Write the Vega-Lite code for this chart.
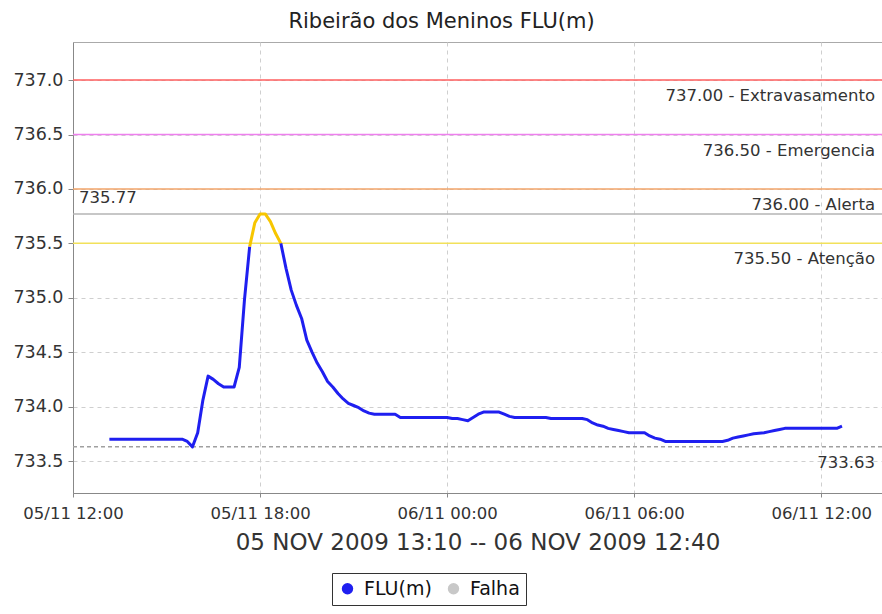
{
  "$schema": "https://vega.github.io/schema/vega-lite/v6.json",
  "autosize": {"type": "none"},
  "padding": {"left": 73, "top": 42, "right": 0, "bottom": 121},
  "width": 809,
  "height": 451,
  "background": "white",
  "title": {"text": "Ribeirão dos Meninos FLU(m)", "anchor": "middle", "font": "DejaVu Sans", "fontSize": 21, "fontWeight": "normal", "color": "#222", "offset": 10, "dx": -36},
  "config": {
    "view": {"stroke": "#aaaaaa", "strokeWidth": 1},
    "axis": {"labelFont": "DejaVu Sans", "titleFont": "DejaVu Sans", "labelColor": "#333", "titleColor": "#333", "domainColor": "#888", "tickColor": "#888", "gridColor": "#cfcfcf", "gridDash": [4, 4], "grid": true}
  },
  "datasets": {
    "flu": [
      {"t": "2009-11-05T13:10:00", "v": 733.70, "faixa": "normal", "trecho": 1},
      {"t": "2009-11-05T14:00:00", "v": 733.70, "faixa": "normal", "trecho": 1},
      {"t": "2009-11-05T15:00:00", "v": 733.70, "faixa": "normal", "trecho": 1},
      {"t": "2009-11-05T15:30:00", "v": 733.70, "faixa": "normal", "trecho": 1},
      {"t": "2009-11-05T15:40:00", "v": 733.68, "faixa": "normal", "trecho": 1},
      {"t": "2009-11-05T15:50:00", "v": 733.63, "faixa": "normal", "trecho": 1},
      {"t": "2009-11-05T16:00:00", "v": 733.76, "faixa": "normal", "trecho": 1},
      {"t": "2009-11-05T16:10:00", "v": 734.06, "faixa": "normal", "trecho": 1},
      {"t": "2009-11-05T16:20:00", "v": 734.28, "faixa": "normal", "trecho": 1},
      {"t": "2009-11-05T16:30:00", "v": 734.25, "faixa": "normal", "trecho": 1},
      {"t": "2009-11-05T16:40:00", "v": 734.21, "faixa": "normal", "trecho": 1},
      {"t": "2009-11-05T16:50:00", "v": 734.18, "faixa": "normal", "trecho": 1},
      {"t": "2009-11-05T17:10:00", "v": 734.18, "faixa": "normal", "trecho": 1},
      {"t": "2009-11-05T17:20:00", "v": 734.36, "faixa": "normal", "trecho": 1},
      {"t": "2009-11-05T17:30:00", "v": 734.98, "faixa": "normal", "trecho": 1},
      {"t": "2009-11-05T17:40:00", "v": 735.47, "faixa": "normal", "trecho": 1},
      {"t": "2009-11-05T17:40:00", "v": 735.47, "faixa": "atencao", "trecho": 2},
      {"t": "2009-11-05T17:50:00", "v": 735.69, "faixa": "atencao", "trecho": 2},
      {"t": "2009-11-05T18:00:00", "v": 735.77, "faixa": "atencao", "trecho": 2},
      {"t": "2009-11-05T18:10:00", "v": 735.77, "faixa": "atencao", "trecho": 2},
      {"t": "2009-11-05T18:20:00", "v": 735.70, "faixa": "atencao", "trecho": 2},
      {"t": "2009-11-05T18:30:00", "v": 735.59, "faixa": "atencao", "trecho": 2},
      {"t": "2009-11-05T18:40:00", "v": 735.50, "faixa": "atencao", "trecho": 2},
      {"t": "2009-11-05T18:40:00", "v": 735.50, "faixa": "normal", "trecho": 3},
      {"t": "2009-11-05T18:50:00", "v": 735.27, "faixa": "normal", "trecho": 3},
      {"t": "2009-11-05T19:00:00", "v": 735.07, "faixa": "normal", "trecho": 3},
      {"t": "2009-11-05T19:10:00", "v": 734.93, "faixa": "normal", "trecho": 3},
      {"t": "2009-11-05T19:20:00", "v": 734.81, "faixa": "normal", "trecho": 3},
      {"t": "2009-11-05T19:30:00", "v": 734.61, "faixa": "normal", "trecho": 3},
      {"t": "2009-11-05T19:40:00", "v": 734.50, "faixa": "normal", "trecho": 3},
      {"t": "2009-11-05T19:50:00", "v": 734.40, "faixa": "normal", "trecho": 3},
      {"t": "2009-11-05T20:00:00", "v": 734.32, "faixa": "normal", "trecho": 3},
      {"t": "2009-11-05T20:10:00", "v": 734.23, "faixa": "normal", "trecho": 3},
      {"t": "2009-11-05T20:20:00", "v": 734.18, "faixa": "normal", "trecho": 3},
      {"t": "2009-11-05T20:30:00", "v": 734.12, "faixa": "normal", "trecho": 3},
      {"t": "2009-11-05T20:40:00", "v": 734.07, "faixa": "normal", "trecho": 3},
      {"t": "2009-11-05T20:50:00", "v": 734.03, "faixa": "normal", "trecho": 3},
      {"t": "2009-11-05T21:00:00", "v": 734.01, "faixa": "normal", "trecho": 3},
      {"t": "2009-11-05T21:10:00", "v": 733.99, "faixa": "normal", "trecho": 3},
      {"t": "2009-11-05T21:20:00", "v": 733.96, "faixa": "normal", "trecho": 3},
      {"t": "2009-11-05T21:30:00", "v": 733.94, "faixa": "normal", "trecho": 3},
      {"t": "2009-11-05T21:40:00", "v": 733.93, "faixa": "normal", "trecho": 3},
      {"t": "2009-11-05T22:20:00", "v": 733.93, "faixa": "normal", "trecho": 3},
      {"t": "2009-11-05T22:30:00", "v": 733.90, "faixa": "normal", "trecho": 3},
      {"t": "2009-11-06T00:00:00", "v": 733.90, "faixa": "normal", "trecho": 3},
      {"t": "2009-11-06T00:10:00", "v": 733.89, "faixa": "normal", "trecho": 3},
      {"t": "2009-11-06T00:20:00", "v": 733.89, "faixa": "normal", "trecho": 3},
      {"t": "2009-11-06T00:30:00", "v": 733.88, "faixa": "normal", "trecho": 3},
      {"t": "2009-11-06T00:40:00", "v": 733.87, "faixa": "normal", "trecho": 3},
      {"t": "2009-11-06T00:50:00", "v": 733.90, "faixa": "normal", "trecho": 3},
      {"t": "2009-11-06T01:00:00", "v": 733.93, "faixa": "normal", "trecho": 3},
      {"t": "2009-11-06T01:10:00", "v": 733.95, "faixa": "normal", "trecho": 3},
      {"t": "2009-11-06T01:40:00", "v": 733.95, "faixa": "normal", "trecho": 3},
      {"t": "2009-11-06T01:50:00", "v": 733.93, "faixa": "normal", "trecho": 3},
      {"t": "2009-11-06T02:00:00", "v": 733.91, "faixa": "normal", "trecho": 3},
      {"t": "2009-11-06T02:10:00", "v": 733.90, "faixa": "normal", "trecho": 3},
      {"t": "2009-11-06T03:10:00", "v": 733.90, "faixa": "normal", "trecho": 3},
      {"t": "2009-11-06T03:20:00", "v": 733.89, "faixa": "normal", "trecho": 3},
      {"t": "2009-11-06T04:20:00", "v": 733.89, "faixa": "normal", "trecho": 3},
      {"t": "2009-11-06T04:30:00", "v": 733.88, "faixa": "normal", "trecho": 3},
      {"t": "2009-11-06T04:40:00", "v": 733.85, "faixa": "normal", "trecho": 3},
      {"t": "2009-11-06T04:50:00", "v": 733.83, "faixa": "normal", "trecho": 3},
      {"t": "2009-11-06T05:00:00", "v": 733.82, "faixa": "normal", "trecho": 3},
      {"t": "2009-11-06T05:10:00", "v": 733.80, "faixa": "normal", "trecho": 3},
      {"t": "2009-11-06T05:20:00", "v": 733.79, "faixa": "normal", "trecho": 3},
      {"t": "2009-11-06T05:30:00", "v": 733.78, "faixa": "normal", "trecho": 3},
      {"t": "2009-11-06T05:40:00", "v": 733.77, "faixa": "normal", "trecho": 3},
      {"t": "2009-11-06T05:50:00", "v": 733.76, "faixa": "normal", "trecho": 3},
      {"t": "2009-11-06T06:20:00", "v": 733.76, "faixa": "normal", "trecho": 3},
      {"t": "2009-11-06T06:30:00", "v": 733.73, "faixa": "normal", "trecho": 3},
      {"t": "2009-11-06T06:40:00", "v": 733.71, "faixa": "normal", "trecho": 3},
      {"t": "2009-11-06T06:50:00", "v": 733.70, "faixa": "normal", "trecho": 3},
      {"t": "2009-11-06T07:00:00", "v": 733.68, "faixa": "normal", "trecho": 3},
      {"t": "2009-11-06T08:50:00", "v": 733.68, "faixa": "normal", "trecho": 3},
      {"t": "2009-11-06T09:00:00", "v": 733.69, "faixa": "normal", "trecho": 3},
      {"t": "2009-11-06T09:10:00", "v": 733.71, "faixa": "normal", "trecho": 3},
      {"t": "2009-11-06T09:20:00", "v": 733.72, "faixa": "normal", "trecho": 3},
      {"t": "2009-11-06T09:30:00", "v": 733.73, "faixa": "normal", "trecho": 3},
      {"t": "2009-11-06T09:40:00", "v": 733.74, "faixa": "normal", "trecho": 3},
      {"t": "2009-11-06T09:50:00", "v": 733.75, "faixa": "normal", "trecho": 3},
      {"t": "2009-11-06T10:10:00", "v": 733.76, "faixa": "normal", "trecho": 3},
      {"t": "2009-11-06T10:20:00", "v": 733.77, "faixa": "normal", "trecho": 3},
      {"t": "2009-11-06T10:30:00", "v": 733.78, "faixa": "normal", "trecho": 3},
      {"t": "2009-11-06T10:40:00", "v": 733.79, "faixa": "normal", "trecho": 3},
      {"t": "2009-11-06T10:50:00", "v": 733.80, "faixa": "normal", "trecho": 3},
      {"t": "2009-11-06T12:30:00", "v": 733.80, "faixa": "normal", "trecho": 3},
      {"t": "2009-11-06T12:40:00", "v": 733.82, "faixa": "normal", "trecho": 3}
    ],
    "levels": [
      {"nivel": "Extravasamento", "v": 737.00, "label": "737.00 - Extravasamento"},
      {"nivel": "Emergencia", "v": 736.50, "label": "736.50 - Emergencia"},
      {"nivel": "Alerta", "v": 736.00, "label": "736.00 - Alerta"},
      {"nivel": "Atenção", "v": 735.50, "label": "735.50 - Atenção"},
      {"nivel": "max", "v": 735.77, "label": "735.77"},
      {"nivel": "min", "v": 733.63, "label": "733.63"}
    ],
    "serie": [
      {"serie": "FLU(m)"},
      {"serie": "Falha"}
    ]
  },
  "layer": [
    {
      "data": {"name": "levels"},
      "transform": [{"filter": "datum.nivel !== 'min'"}],
      "mark": {"type": "rule", "strokeWidth": 1.5},
      "encoding": {
        "y": {"field": "v", "type": "quantitative", "scale": {"domain": [733.206, 737.35], "nice": false, "zero": false}},
        "color": {"field": "nivel", "type": "nominal", "scale": {"domain": ["Extravasamento", "Emergencia", "Alerta", "Atenção", "max", "min"], "range": ["#ff5f5f", "#ee80ee", "#f2a46a", "#f2e15a", "#b4b4b4", "#a0a0a0"]}, "legend": null}
      }
    },
    {
      "data": {"name": "levels"},
      "transform": [{"filter": "datum.nivel === 'min'"}],
      "mark": {"type": "rule", "strokeWidth": 1.5, "strokeDash": [4, 3], "color": "#a0a0a0"},
      "encoding": {
        "y": {"field": "v", "type": "quantitative"}
      }
    },
    {
      "data": {"name": "flu"},
      "mark": {"type": "line", "strokeWidth": 3, "strokeJoin": "round"},
      "encoding": {
        "x": {"field": "t", "type": "temporal",
          "scale": {"domain": [{"year": 2009, "month": 11, "date": 5, "hours": 12, "minutes": 0}, {"year": 2009, "month": 11, "date": 6, "hours": 13, "minutes": 57}], "nice": false},
          "axis": {"values": [{"year": 2009, "month": 11, "date": 5, "hours": 12}, {"year": 2009, "month": 11, "date": 5, "hours": 18}, {"year": 2009, "month": 11, "date": 6, "hours": 0}, {"year": 2009, "month": 11, "date": 6, "hours": 6}, {"year": 2009, "month": 11, "date": 6, "hours": 12}],
            "format": "%d/%m %H:%M", "labelFlush": false, "labelOverlap": false,
            "labelFontSize": 16.5, "labelPadding": 8, "tickSize": 4,
            "title": "05 NOV 2009 13:10 -- 06 NOV 2009 12:40", "titleFontSize": 23, "titleFontWeight": "normal", "titlePadding": 10}},
        "y": {"field": "v", "type": "quantitative",
          "scale": {"domain": [733.206, 737.35], "nice": false, "zero": false},
          "axis": {"values": [733.5, 734, 734.5, 735, 735.5, 736, 736.5, 737], "format": ".1f", "labelFontSize": 17.5, "labelPadding": 5, "tickSize": 5, "title": null}},
        "stroke": {"field": "faixa", "type": "nominal", "scale": {"domain": ["normal", "atencao"], "range": ["#1f1ff0", "#f7c600"]}, "legend": null},
        "detail": {"field": "trecho", "type": "nominal"}
      }
    },
    {
      "data": {"name": "levels"},
      "transform": [{"filter": "datum.nivel !== 'max'"}],
      "mark": {"type": "text", "align": "right", "baseline": "middle", "dx": -7, "dy": 16, "font": "DejaVu Sans", "fontSize": 16.5, "color": "#333"},
      "encoding": {
        "x": {"datum": {"year": 2009, "month": 11, "date": 6, "hours": 13, "minutes": 57}, "type": "temporal"},
        "y": {"field": "v", "type": "quantitative"},
        "text": {"field": "label"}
      }
    },
    {
      "data": {"name": "levels"},
      "transform": [{"filter": "datum.nivel === 'max'"}],
      "mark": {"type": "text", "align": "left", "baseline": "middle", "dx": 6, "dy": -16, "font": "DejaVu Sans", "fontSize": 16.5, "color": "#333"},
      "encoding": {
        "x": {"datum": {"year": 2009, "month": 11, "date": 5, "hours": 12, "minutes": 0}, "type": "temporal"},
        "y": {"field": "v", "type": "quantitative"},
        "text": {"field": "label"}
      }
    },
    {
      "data": {"name": "serie"},
      "transform": [{"filter": "datum.serie === 'nenhuma'"}],
      "mark": {"type": "point", "filled": true},
      "encoding": {
        "fill": {"field": "serie", "type": "nominal", "scale": {"domain": ["FLU(m)", "Falha"], "range": ["#1f1ff0", "#c8c8c8"]},
          "legend": {"orient": "none", "legendX": 259, "legendY": 531, "direction": "horizontal", "title": null,
            "labelFont": "DejaVu Sans", "labelFontSize": 19, "labelColor": "#111", "symbolSize": 130, "symbolStrokeWidth": 0, "symbolOpacity": 1,
            "labelOffset": 7, "columnPadding": 12, "padding": 6,
            "strokeColor": "#333", "fillColor": "#ffffff"}
        }
      }
    }
  ]
}
